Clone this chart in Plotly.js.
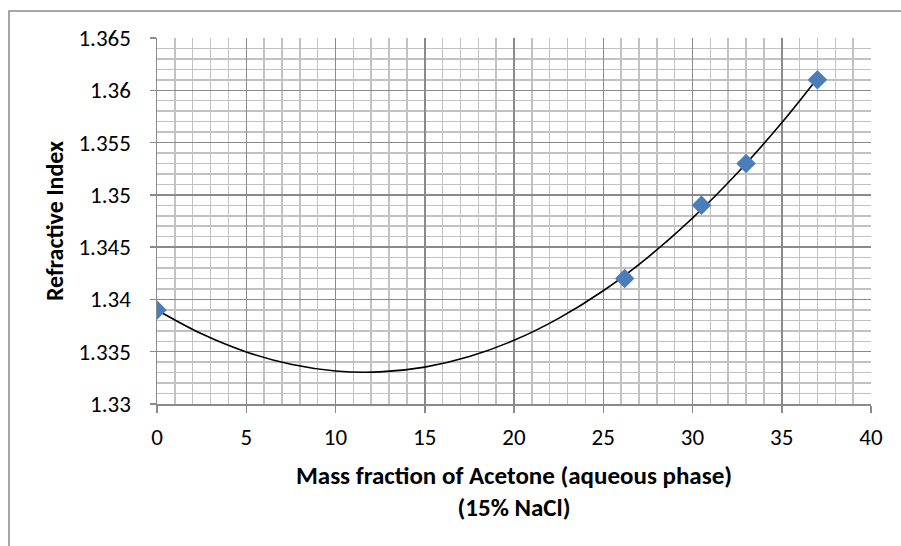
<!DOCTYPE html>
<html>
<head>
<meta charset="utf-8">
<script src="https://cdn.plot.ly/plotly-3.0.1.min.js"></script>
<style>
  html, body { margin: 0; padding: 0; background: #ffffff; }
  #chart { width: 901px; height: 546px; }
</style>
</head>
<body>
<div id="chart"></div>
<script>
// Measured samples: acetone mass fraction vs refractive index (15% NaCl)
const massFraction = [0, 26.2, 30.5, 33, 37];
const refractiveIndex = [1.339, 1.342, 1.349, 1.353, 1.361];

// Polynomial (order 2) trendline, sampled along the curve
const trendX = [0, 2.5, 5, 7.5, 10, 12.5, 15, 17.5, 20, 22.5, 25, 27.5, 30, 32.5, 35, 37];
const trendY = [1.33899, 1.33671, 1.33498, 1.33380, 1.33316, 1.33307, 1.33353, 1.33454,
                1.33609, 1.33819, 1.34083, 1.34403, 1.34777, 1.35206, 1.35689, 1.36115];

// Axis ticks
const xTickVals = [0, 5, 10, 15, 20, 25, 30, 35, 40];
const xTickLabels = ['0', '5', '10', '15', '20', '25', '30', '35', '40'];
const yTickVals = [1.33, 1.335, 1.34, 1.345, 1.35, 1.355, 1.36, 1.365];
const yTickLabels = ['1.33', '1.335', '1.34', '1.345', '1.35', '1.355', '1.36', '1.365'];

const FONT = 'Carlito, Lato, "Open Sans", sans-serif';
const MAJOR = '#8a8a8a';
const MINOR = '#c2c2c2';

const traces = [
  {
    x: trendX,
    y: trendY,
    type: 'scatter',
    mode: 'lines',
    line: { color: '#000000', width: 1.6, shape: 'spline', smoothing: 1 },
    hoverinfo: 'skip',
    showlegend: false
  },
  {
    x: massFraction,
    y: refractiveIndex,
    type: 'scatter',
    mode: 'markers',
    marker: { symbol: 'diamond', size: 15, color: '#4a7ebb', line: { width: 0 } },
    showlegend: false
  }
];

const layout = {
  width: 901,
  height: 546,
  paper_bgcolor: '#ffffff',
  plot_bgcolor: '#ffffff',
  margin: { l: 157, r: 30, t: 38, b: 142 },
  font: { family: FONT, color: '#000000', size: 23 },
  showlegend: false,
  xaxis: {
    range: [0, 40],
    tickmode: 'array',
    tickvals: xTickVals,
    ticktext: xTickLabels,
    showgrid: true,
    gridcolor: MAJOR,
    gridwidth: 1.5,
    minor: { dtick: 1, showgrid: true, gridcolor: MINOR, gridwidth: 1.5, ticks: '' },
    zeroline: false,
    showline: true,
    linecolor: MAJOR,
    linewidth: 1.5,
    ticks: 'outside',
    ticklen: 7,
    tickcolor: MAJOR,
    tickwidth: 1.5,
    ticklabelstandoff: 5,
    tickfont: { family: FONT, size: 23, color: '#000000' },
    title: {
      text: '<b>Mass fraction of Acetone (aqueous phase)</b><br><b>(15% NaCl)</b>',
      font: { family: FONT, size: 25, color: '#000000' },
      standoff: 16
    }
  },
  yaxis: {
    range: [1.33, 1.365],
    tickmode: 'array',
    tickvals: yTickVals,
    ticktext: yTickLabels,
    showgrid: true,
    gridcolor: MAJOR,
    gridwidth: 1.5,
    minor: { dtick: 0.001, showgrid: true, gridcolor: MINOR, gridwidth: 1.5, ticks: '' },
    zeroline: false,
    showline: true,
    linecolor: MAJOR,
    linewidth: 1.5,
    ticks: 'outside',
    ticklen: 6,
    tickcolor: MAJOR,
    tickwidth: 1.5,
    ticklabelstandoff: 14,
    tickfont: { family: FONT, size: 23, color: '#000000' },
    title: {
      text: '<b>Refractive Index</b>',
      font: { family: FONT, size: 24, color: '#000000' },
      standoff: 8
    }
  },
  shapes: [
    // chart frame
    {
      type: 'rect', xref: 'paper', yref: 'paper', layer: 'below',
      x0: -0.2073, x1: 1.06, y0: -0.45, y1: 1.0738,
      line: { color: '#8a8a8a', width: 1.5 }, fillcolor: 'rgba(0,0,0,0)'
    }
  ]
};

Plotly.newPlot('chart', traces, layout, { staticPlot: true, displayModeBar: false });
</script>
</body>
</html>
